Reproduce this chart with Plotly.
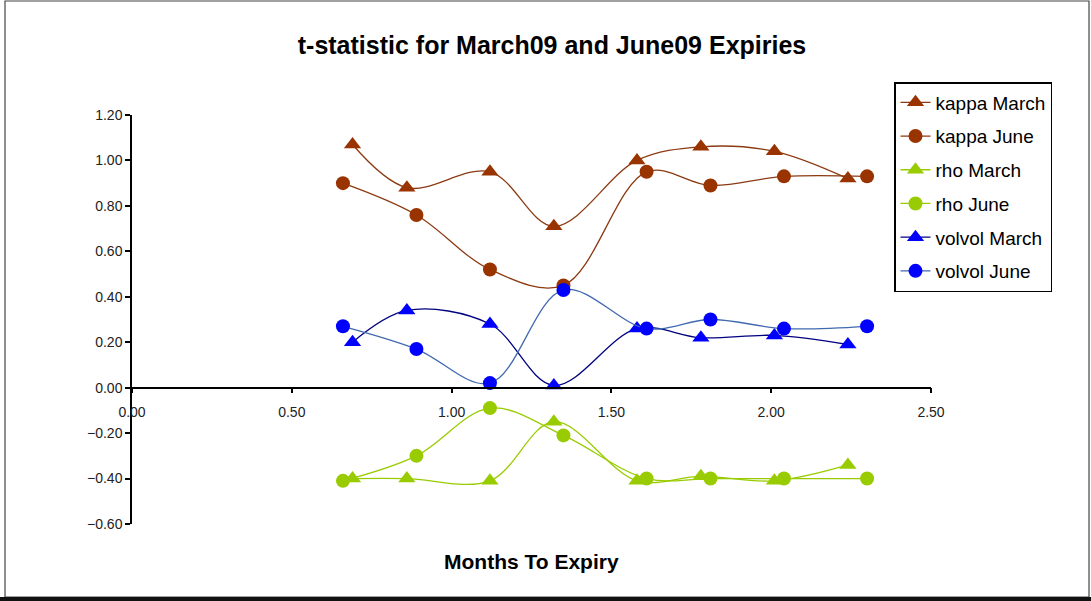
import plotly.graph_objects as go

# ---- data ----
months_march = [0.69, 0.86, 1.12, 1.32, 1.58, 1.78, 2.01, 2.24]
months_june = [0.66, 0.89, 1.12, 1.35, 1.61, 1.81, 2.04, 2.30]

kappa_march = [1.07, 0.88, 0.95, 0.71, 1.00, 1.06, 1.04, 0.92]
kappa_june = [0.90, 0.76, 0.52, 0.45, 0.95, 0.89, 0.93, 0.93]
rho_march = [-0.40, -0.40, -0.41, -0.15, -0.41, -0.39, -0.41, -0.34]
rho_june = [-0.41, -0.30, -0.09, -0.21, -0.40, -0.40, -0.40, -0.40]
volvol_march = [0.20, 0.34, 0.28, 0.01, 0.26, 0.22, 0.23, 0.19]
volvol_june = [0.27, 0.17, 0.02, 0.43, 0.26, 0.30, 0.26, 0.27]

series_names = ["kappa March", "kappa June", "rho March", "rho June",
                "volvol March", "volvol June"]

x_range = [0.0, 2.5]
y_range = [-0.6, 1.2]

TITLE = "t-statistic for March09 and June09 Expiries"
XTITLE = "Months To Expiry"

FONT = "Liberation Sans, Arial, sans-serif"

# ---- styles ----
styles = {
    "kappa March": dict(mcolor="#993300", lcolor="#8B3A12", symbol="triangle-up"),
    "kappa June": dict(mcolor="#993300", lcolor="#8B3A12", symbol="circle"),
    "rho March": dict(mcolor="#99CC00", lcolor="#99CC00", symbol="triangle-up"),
    "rho June": dict(mcolor="#99CC00", lcolor="#99CC00", symbol="circle"),
    "volvol March": dict(mcolor="#0000FF", lcolor="#000080", symbol="triangle-up"),
    "volvol June": dict(mcolor="#0000FF", lcolor="#4169B0", symbol="circle"),
}
data = {
    "kappa March": (months_march, kappa_march),
    "kappa June": (months_june, kappa_june),
    "rho March": (months_march, rho_march),
    "rho June": (months_june, rho_june),
    "volvol March": (months_march, volvol_march),
    "volvol June": (months_june, volvol_june),
}

fig = go.Figure()
for name in series_names:
    xs, ys = data[name]
    st = styles[name]
    fig.add_trace(go.Scatter(
        x=xs, y=ys, name=name, mode="lines+markers",
        legendgroup=name,
        line=dict(color=st["lcolor"], width=1.3, shape="spline", smoothing=1.0),
        marker=dict(color=st["mcolor"], symbol=st["symbol"],
                    size=15 if st["symbol"] == "triangle-up" else 14,
                    line=dict(width=0)),
    ))

W, H = 1091, 601
L, R, T, B = 132, 160, 115, 77
pw, ph = W - L - R, H - T - B

def px_x(X):
    return (X - L) / pw

def px_y(Y):
    return (H - B - Y) / ph

fig.update_layout(
    width=W, height=H,
    margin=dict(l=L, r=R, t=T, b=B),
    paper_bgcolor="white", plot_bgcolor="white",
    font=dict(family=FONT, color="black"),
    showlegend=True,
    title=dict(text=TITLE, x=552 / W, xref="container", xanchor="center",
               y=1 - 45 / H, yref="container", yanchor="middle",
               font=dict(family=FONT, size=25, weight="bold", color="black")),
    legend=dict(x=px_x(894), y=px_y(82), xanchor="left", yanchor="top",
                bordercolor="black", borderwidth=1.5, bgcolor="white",
                font=dict(family=FONT, size=19, color="black"),
                traceorder="grouped", tracegroupgap=6,
                entrywidth=145, entrywidthmode="pixels"),
    xaxis=dict(range=x_range, dtick=0.5, tick0=0, tickformat=".2f",
               showgrid=False, zeroline=False, showline=True,
               linecolor="black", linewidth=1.5,
               ticks="outside", ticklen=5, tickcolor="black", tickwidth=1.5,
               anchor="free",
               position=(0 - y_range[0]) / (y_range[1] - y_range[0]),
               ticklabelstandoff=7,
               tickfont=dict(family=FONT, size=14, color="#222")),
    yaxis=dict(range=y_range, dtick=0.2, tick0=0, tickformat=".2f",
               showgrid=False, zeroline=False, showline=True,
               linecolor="black", linewidth=1.5,
               ticks="outside", ticklen=5, tickcolor="black", tickwidth=1.5,
               tickfont=dict(family=FONT, size=14, color="#222")),
    annotations=[dict(text=XTITLE, xref="paper", yref="paper",
                      x=0.5, y=px_y(561), xanchor="center", yanchor="middle",
                      showarrow=False,
                      font=dict(family=FONT, size=21, weight="bold", color="black"))],
    shapes=[
        dict(type="rect", xref="paper", yref="paper",
             x0=px_x(5), x1=px_x(1089), y0=px_y(597), y1=px_y(1),
             line=dict(color="#444", width=1.2), layer="below"),
        dict(type="line", xref="paper", yref="paper",
             x0=px_x(0), x1=px_x(W), y0=px_y(599), y1=px_y(599),
             line=dict(color="#111", width=4)),
    ],
)

fig.write_html("out.html",
               config={"displayModeBar": False},
               post_script="document.body.style.margin='0';document.body.style.overflow='hidden';")
